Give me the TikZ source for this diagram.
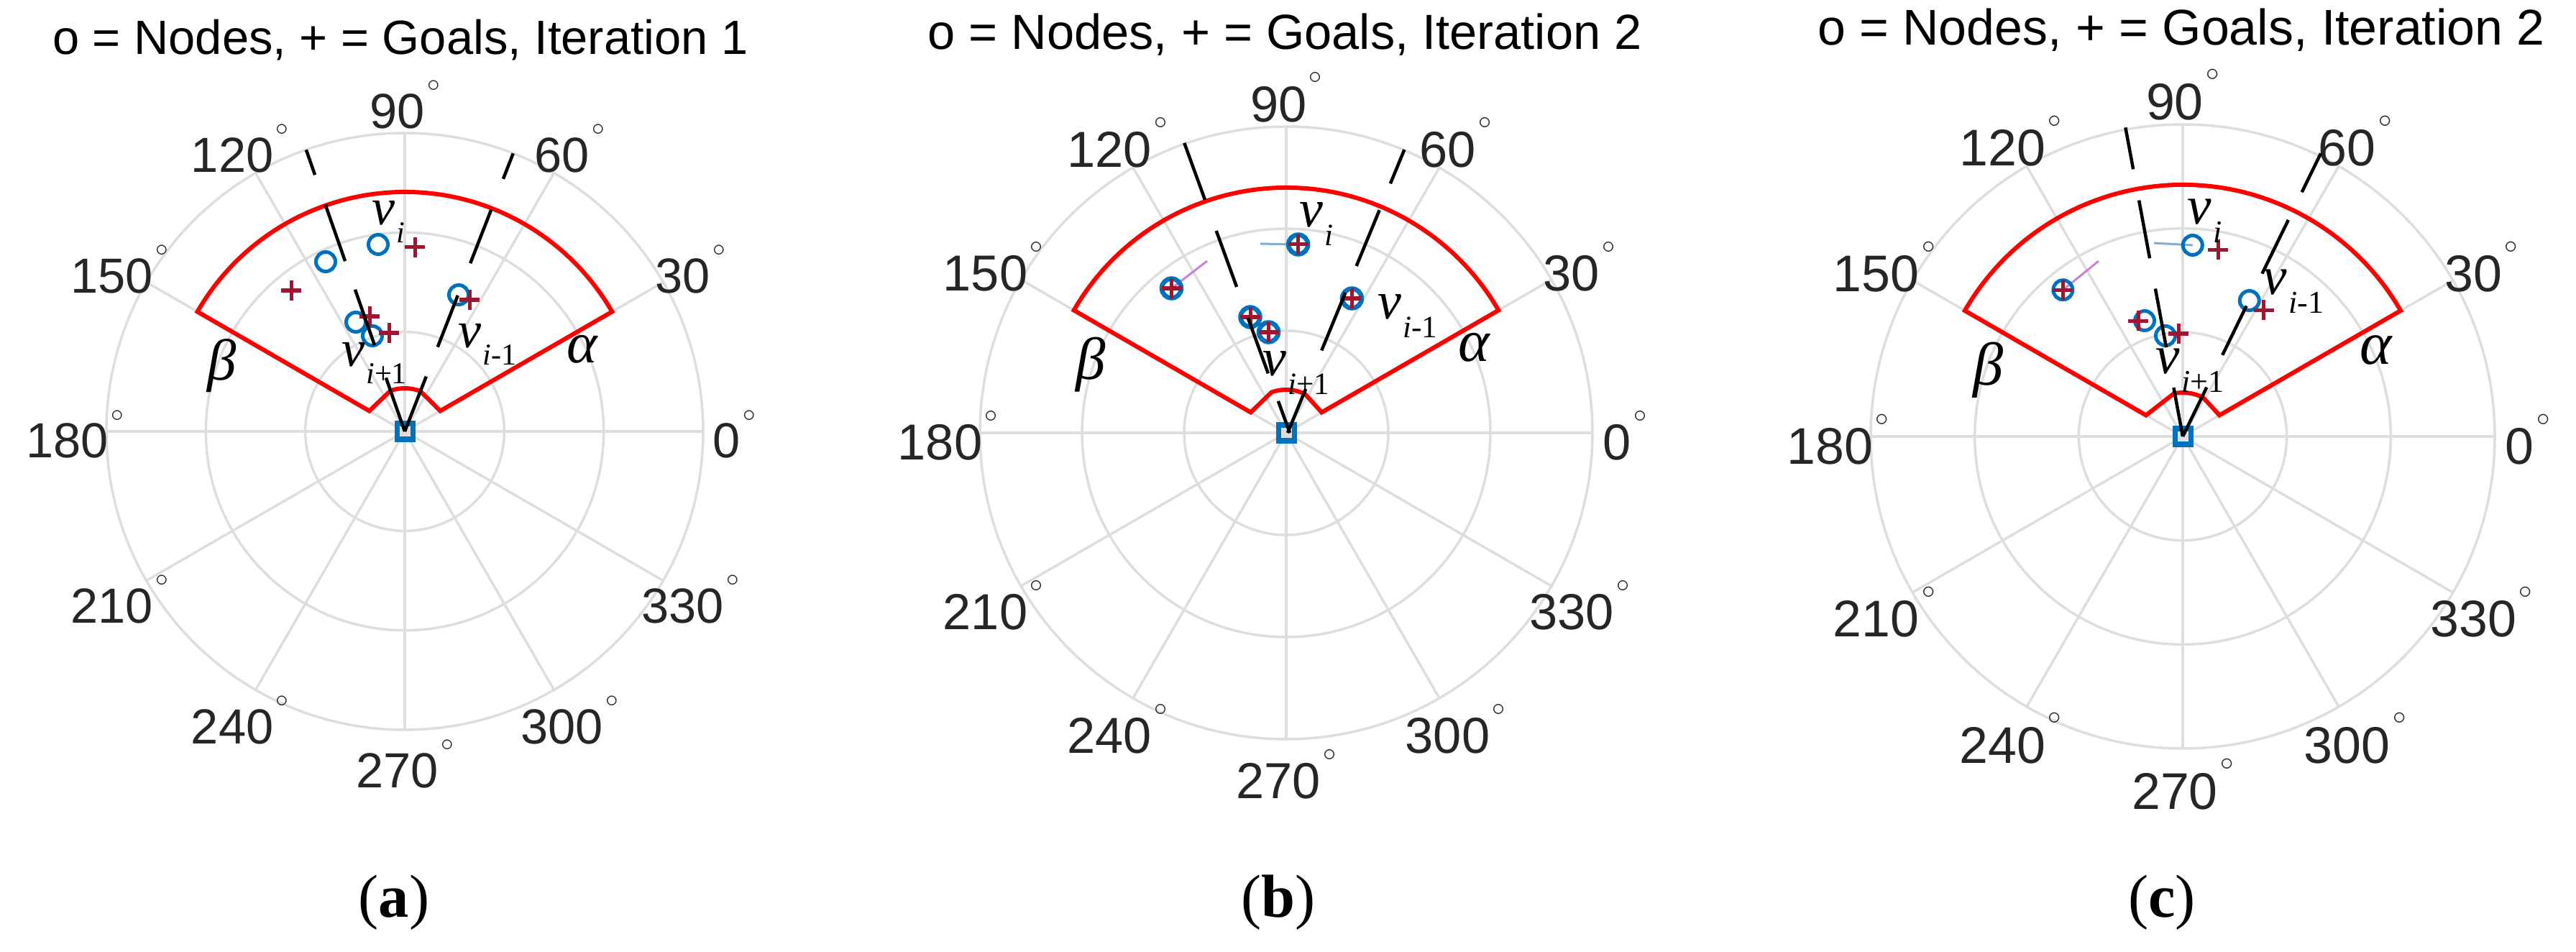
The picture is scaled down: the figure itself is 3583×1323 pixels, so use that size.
\documentclass[tikz,border=0pt]{standalone}
\usepackage{fontspec}
\setmainfont{Liberation Serif}
\newfontfamily\sansf{Liberation Sans}
\usetikzlibrary{calc}
\definecolor{mblue}{HTML}{0072BD}
\definecolor{mred}{HTML}{A2142F}
\definecolor{gridc}{RGB}{222,222,222}
\definecolor{labc}{HTML}{262626}
\definecolor{trajblue}{RGB}{125,175,212}
\definecolor{trajpurp}{RGB}{200,130,215}
\tikzset{
  gridline/.style={draw=gridc, line width=0.035cm},
  wedgeline/.style={draw=red, line width=0.06cm, line join=miter},
  edgeline/.style={draw=black, line width=0.045cm},
  nodemark/.style={draw=mblue, line width=0.05cm},
  goalmark/.style={draw=mred, line width=0.05cm},
  centermark/.style={draw=mblue, line width=0.07cm},
  traj/.style={line width=0.03cm},
  anglab/.style={font=\sansf\fontsize{19.5}{21}\selectfont, text=labc, inner sep=0pt, anchor=base},
  ttl/.style={font=\sansf\fontsize{19}{21}\selectfont, text=black, inner sep=0pt, anchor=base},
  vlab/.style={font=\fontsize{20.5}{22}\selectfont\itshape, inner sep=0pt, anchor=base west},
  glab/.style={font=\fontsize{23}{24}\selectfont\itshape, inner sep=0pt},
  caplab/.style={font=\fontsize{24}{26}\selectfont, inner sep=0pt, anchor=base},
}
\newcommand{\dg}{\kern1pt\raisebox{14.5pt}{\fontsize{10}{10}\selectfont$\circ$}}
\newcommand{\vsb}[1]{v\kern0.5pt\raisebox{-7pt}{\fontsize{12}{12}\selectfont #1}}
\newcommand{\panelgrid}{%
  \foreach \k in {1,2,3}{\draw[gridline] (0,0) circle[radius={\R*\k/3}];}%
  \foreach \a in {0,30,...,330}{\draw[gridline] (0,0) -- (\a:\R);}%
  \foreach \a in {0,30,...,330}{\node[anglab] (\P a\a) at ($(\a:\RL)+(0,-\LY)$) {\a\dg};}%
}
\newcommand{\redwedge}[5]{\draw[wedgeline] (150:#1) arc[start angle=150,end angle=30,radius=#1] -- (30:#2) -- (#5:#3) arc[start angle=#5,end angle=#4,radius=#3] -- (150:#2) -- cycle;}
\newcommand{\bline}[3]{\foreach \p/\q in {#3}{\draw[edgeline] ($(#1)+(#2:\p)$) -- ($(#1)+(#2:\q)$);}}
\newcommand{\nd}[1]{\draw[nodemark] (#1) circle[radius=13.5];}
\newcommand{\gl}[1]{\draw[goalmark] ($(#1)+(-14,0)$) -- ($(#1)+(14,0)$) ($(#1)+(0,-14)$) -- ($(#1)+(0,14)$);}
\newcommand{\ctrsq}{\draw[centermark] (-11,-11) rectangle (11,11);}
\begin{document}
\begin{tikzpicture}[x=0.01cm,y=0.01cm]
\useasboundingbox (0,0) rectangle (3583,1323);
\fill[white] (0,0) rectangle (3583,1323);

% ---------------- panel (a)
\begin{scope}[shift={(563,723)}]
\def\R{415}\def\s{1}\def\P{A}
\pgfmathsetmacro\RL{1.105*\R}\pgfmathsetmacro\LY{37*\s}
\tikzset{every node/.append style={scale=\s}}
\panelgrid
\redwedge{333}{57}{60}{109.3}{68.7}
\nd{-110,236}\nd{-37,260}\nd{75,190}\nd{-68,152}\nd{-45,133}
\gl{14,256}\gl{-158,196}\gl{90,183}\gl{-49,160}\gl{-22,137}
\ctrsq
\bline{0,0}{109.3}{0/79,127/209,251/334,378/415}
\bline{0,0}{68.7}{0/82,126/203,251/331,377/415}
\node[vlab] (Avi) at (-46,287) {\vsb{i}};
\node[vlab] (Avm) at (74,117) {\vsb{i\textup{-1}}};
\node[vlab] (Avp) at (-88,91) {\vsb{i\textup{+1}}};
\node[glab] (Abeta) at (-254,91) {β};
\node[glab] (Aalpha) at (247,114) {α};
\node[ttl] (Atitle) at (-6,524) {o = Nodes, + = Goals, Iteration 1};
\end{scope}

% ---------------- panel (b)
\begin{scope}[shift={(1789,721)}]
\def\R{426}\def\s{1.0265}\def\P{B}
\pgfmathsetmacro\RL{1.105*\R}\pgfmathsetmacro\LY{37*\s}
\tikzset{every node/.append style={scale=\s}, nodemark/.append style={line width=0.065cm}}
\panelgrid
\redwedge{341}{57}{60}{110}{64}
\draw[traj, trajblue] (-36,263) -- (16.7,262);
\draw[traj, trajpurp] (-110,239) -- (-159.5,201);
\nd{-159.5,201}\nd{16.7,262}\nd{91.4,187}\nd{-50,161}\nd{-24.5,140}
\gl{-159.5,201}\gl{16.7,262}\gl{91.4,187}\gl{-50,161}\gl{-24.5,140}
\ctrsq
\bline{5,0}{110}{0/47,88/170,216/299,345/429}
\bline{2,0}{67.6}{0/66,124/211,251/335,375/426}
\node[vlab] (Bvi) at (18,286) {\vsb{i}};
\node[vlab] (Bvm) at (127,158) {\vsb{i\textup{-1}}};
\node[vlab] (Bvp) at (-33,79) {\vsb{i\textup{+1}}};
\node[glab] (Bbeta) at (-272,95) {β};
\node[glab] (Balpha) at (261,119) {α};
\node[ttl] (Btitle) at (-2,533) {o = Nodes, + = Goals, Iteration 2};
\end{scope}

% ---------------- panel (c)
\begin{scope}[shift={(3036,716)}]
\def\R{434}\def\s{1.0458}\def\P{C}
\pgfmathsetmacro\RL{1.105*\R}\pgfmathsetmacro\LY{37*\s}
\tikzset{every node/.append style={scale=\s}}
\panelgrid
\redwedge{350}{59}{61}{101.5}{62}
\draw[traj, trajblue] (-40,269) -- (13.8,266);
\draw[traj, trajpurp] (-117,244) -- (-166.6,203.8);
\nd{-166.6,203.8}\nd{13.8,266}\nd{92.7,189}\nd{-53,161}\nd{-24,140}
\gl{-166.6,203.8}\gl{49.4,259.5}\gl{112.7,175.7}\gl{-62,160.5}\gl{-6,143}
\ctrsq
\bline{0,0}{100.5}{0/69,126/209,252/334,378/437}
\bline{0,0}{64}{0/76,126/202,252/335,378/438}
\node[vlab] (Cvi) at (6,295) {\vsb{i}};
\node[vlab] (Cvm) at (111,197) {\vsb{i\textup{-1}}};
\node[vlab] (Cvp) at (-38,87) {\vsb{i\textup{+1}}};
\node[glab] (Cbeta) at (-270,92) {β};
\node[glab] (Calpha) at (269,120) {α};
\node[ttl] (Ctitle) at (-2,544) {o = Nodes, + = Goals, Iteration 2};
\end{scope}

% ---------------- captions
\node[caplab] (capa) at (548,48) {(\textbf{a})};
\node[caplab] (capb) at (1778,48) {(\textbf{b})};
\node[caplab] (capc) at (3007,48) {(\textbf{c})};
\end{tikzpicture}
\end{document}
